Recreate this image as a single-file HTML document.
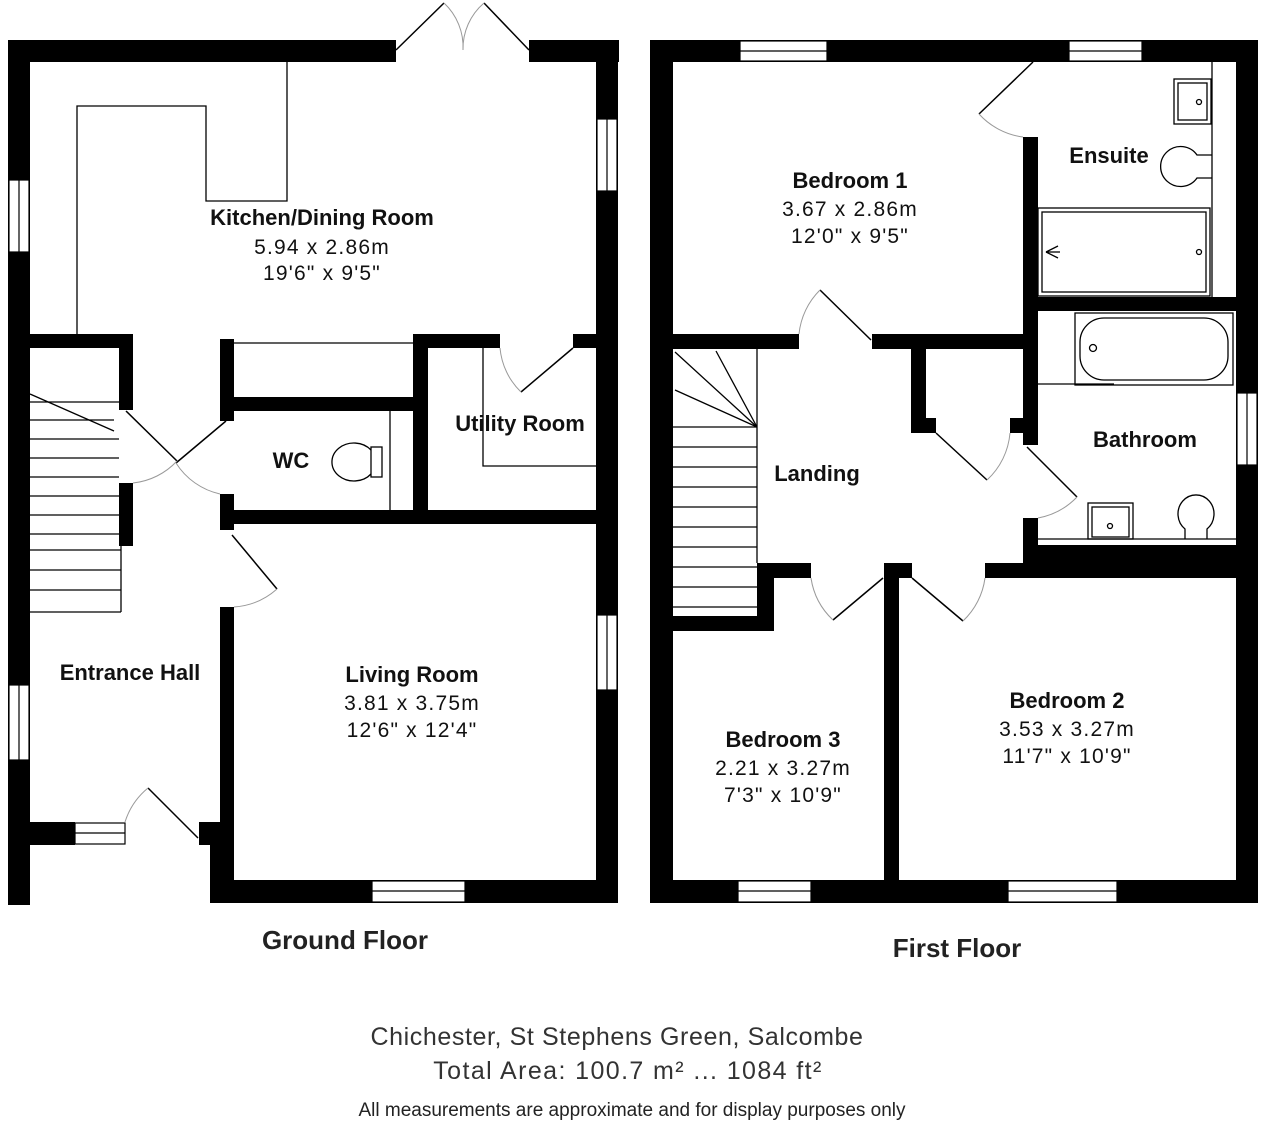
<!DOCTYPE html>
<html><head><meta charset="utf-8"><style>
html,body{margin:0;padding:0;background:#fff;}
svg{display:block;}
text{font-family:"Liberation Sans",Arial,sans-serif;}
.b{font-weight:bold;font-size:22px;fill:#111;}
.n{font-size:21px;fill:#111;letter-spacing:1.2px;}
</style></head><body>
<svg width="1264" height="1128" viewBox="0 0 1264 1128" xmlns="http://www.w3.org/2000/svg">
<g fill="#000">
<rect x="8" y="40" width="388" height="22"/>
<rect x="529" y="40" width="90" height="22"/>
<rect x="8" y="40" width="22" height="865"/>
<rect x="596" y="40" width="22" height="862"/>
<rect x="30" y="334" width="103" height="14"/>
<rect x="119" y="334" width="14" height="76"/>
<rect x="119" y="483" width="14" height="63"/>
<rect x="220" y="339" width="14" height="82"/>
<rect x="220" y="397" width="200" height="14"/>
<rect x="413" y="334" width="15" height="176"/>
<rect x="413" y="334" width="87" height="14"/>
<rect x="573" y="334" width="25" height="14"/>
<rect x="220" y="494" width="14" height="36"/>
<rect x="220" y="510" width="378" height="14"/>
<rect x="220" y="607" width="14" height="243"/>
<rect x="8" y="822" width="67" height="23"/>
<rect x="199" y="822" width="14" height="23"/>
<rect x="210" y="822" width="24" height="81"/>
<rect x="210" y="880" width="408" height="23"/>
<rect x="650" y="40" width="608" height="22"/>
<rect x="650" y="40" width="23" height="863"/>
<rect x="1236" y="40" width="22" height="863"/>
<rect x="650" y="880" width="608" height="23"/>
<rect x="1023" y="137" width="15" height="308"/>
<rect x="1023" y="518" width="15" height="47"/>
<rect x="1037" y="297" width="199" height="14"/>
<rect x="673" y="334" width="126" height="15"/>
<rect x="872" y="334" width="165" height="15"/>
<rect x="911" y="349" width="15" height="84"/>
<rect x="911" y="418" width="25" height="15"/>
<rect x="1010" y="418" width="13" height="15"/>
<rect x="757" y="563" width="54" height="15"/>
<rect x="757" y="563" width="17" height="68"/>
<rect x="673" y="616" width="101" height="15"/>
<rect x="884" y="563" width="15" height="320"/>
<rect x="884" y="563" width="28" height="15"/>
<rect x="985" y="563" width="251" height="15"/>
<rect x="1023" y="545" width="213" height="20"/>
</g>

<g fill="#fff" stroke="#000" stroke-width="1.2">
<rect x="9" y="180" width="20" height="72"/><line x1="19" y1="180" x2="19" y2="252"/>
<rect x="9" y="685" width="20" height="75"/><line x1="19" y1="685" x2="19" y2="760"/>
<rect x="597" y="119" width="20" height="72"/><line x1="607" y1="119" x2="607" y2="191"/>
<rect x="597" y="615" width="20" height="75"/><line x1="607" y1="615" x2="607" y2="690"/>
<rect x="75" y="823" width="50" height="21"/><line x1="75" y1="833" x2="125" y2="833"/>
<rect x="372" y="881" width="93" height="21"/><line x1="372" y1="891" x2="465" y2="891"/>
<rect x="740" y="41" width="87" height="20"/><line x1="740" y1="51" x2="827" y2="51"/>
<rect x="1069" y="41" width="73" height="20"/><line x1="1069" y1="51" x2="1142" y2="51"/>
<rect x="1237" y="393" width="20" height="72"/><line x1="1247" y1="393" x2="1247" y2="465"/>
<rect x="738" y="881" width="73" height="21"/><line x1="738" y1="891" x2="811" y2="891"/>
<rect x="1008" y="881" width="109" height="21"/><line x1="1008" y1="891" x2="1117" y2="891"/>
</g>

<g fill="none" stroke="#000" stroke-width="1.3">
<polyline points="77,334 77,106 206,106 206,201 287,201 287,62"/>
<line x1="234" y1="343" x2="413" y2="343"/>
<polyline points="483,348 483,466 596,466"/>
<line x1="390" y1="411" x2="390" y2="510"/>
<line x1="30" y1="394" x2="114" y2="431"/>
<line x1="30" y1="402" x2="119" y2="402"/>
<line x1="30" y1="420" x2="114" y2="420"/>
<line x1="30" y1="439" x2="119" y2="439"/>
<line x1="30" y1="458" x2="119" y2="458"/>
<line x1="30" y1="477" x2="119" y2="477"/>
<line x1="30" y1="496" x2="119" y2="496"/>
<line x1="30" y1="515" x2="119" y2="515"/>
<line x1="30" y1="534" x2="119" y2="534"/>
<line x1="30" y1="550" x2="121" y2="550"/>
<line x1="30" y1="570" x2="121" y2="570"/>
<line x1="30" y1="590" x2="121" y2="590"/>
<line x1="30" y1="612" x2="121" y2="612"/>
<line x1="121" y1="546" x2="121" y2="612"/>
<line x1="757" y1="349" x2="757" y2="563"/>
<line x1="675" y1="352" x2="757" y2="427"/>
<line x1="716" y1="351" x2="757" y2="427"/>
<line x1="675" y1="390" x2="757" y2="427"/>
<line x1="673" y1="427" x2="757" y2="427"/>
<line x1="673" y1="447" x2="757" y2="447"/>
<line x1="673" y1="467" x2="757" y2="467"/>
<line x1="673" y1="487" x2="757" y2="487"/>
<line x1="673" y1="507" x2="757" y2="507"/>
<line x1="673" y1="527" x2="757" y2="527"/>
<line x1="673" y1="547" x2="757" y2="547"/>
<line x1="673" y1="567" x2="757" y2="567"/>
<line x1="673" y1="587" x2="757" y2="587"/>
<line x1="673" y1="607" x2="757" y2="607"/>
<!-- WC toilet -->
<path d="M371,450 A22,19 0 1 0 371,474"/>
<rect x="371" y="447" width="11" height="30"/>
<!-- Ensuite -->
<line x1="1212" y1="62" x2="1212" y2="297"/>
<rect x="1174" y="79" width="37" height="45"/>
<rect x="1178" y="83" width="29" height="37"/>
<circle cx="1199" cy="102" r="2.5"/>
<path d="M1212,155 L1197,155 A20,20 0 1 0 1197,178 L1212,178"/>
<rect x="1038" y="208" width="172" height="88"/>
<rect x="1042" y="212" width="164" height="80"/>
<circle cx="1199" cy="252" r="2.5"/>
<line x1="1046" y1="252" x2="1058" y2="246"/><line x1="1046" y1="252" x2="1058" y2="258"/><line x1="1046" y1="252" x2="1060" y2="252"/>
<rect x="1075" y="313" width="158" height="72"/>
<rect x="1080" y="318" width="148" height="62" rx="24"/>
<circle cx="1093" cy="348" r="3.5"/>
<line x1="1037" y1="384" x2="1114" y2="384"/>
<line x1="1037" y1="539" x2="1236" y2="539"/>
<rect x="1088" y="503" width="45" height="36"/>
<rect x="1092" y="507" width="37" height="30"/>
<circle cx="1110" cy="526" r="2.5"/>
<path d="M1185,539 L1185,529 A18,19 0 1 1 1207,529 L1207,539"/>
</g>

<g fill="none" stroke="#000" stroke-width="1.5">
<line x1="396" y1="50" x2="444" y2="3"/>
<line x1="529" y1="50" x2="484" y2="3"/>
<line x1="126" y1="411" x2="177" y2="461"/>
<line x1="226" y1="421" x2="176" y2="463"/>
<line x1="573" y1="348" x2="521" y2="392"/>
<line x1="232" y1="535" x2="277" y2="589"/>
<line x1="148" y1="788" x2="198" y2="838"/>
<line x1="1033" y1="62" x2="979" y2="114"/>
<line x1="820" y1="290" x2="871" y2="340"/>
<line x1="936" y1="433" x2="987" y2="480"/>
<line x1="1027" y1="447" x2="1077" y2="497"/>
<line x1="883" y1="578" x2="833" y2="620"/>
<line x1="912" y1="578" x2="963" y2="621"/>
</g>
<g fill="none" stroke="#999" stroke-width="1">
<path d="M444,3 A60,60 0 0 1 463,50"/>
<path d="M484,3 A60,60 0 0 0 463,50"/>
<path d="M177,461 A70,70 0 0 1 133,483"/>
<path d="M176,463 A70,70 0 0 0 220,494"/>
<path d="M521,392 A70,70 0 0 1 500,348"/>
<path d="M277,589 A72,72 0 0 1 234,607"/>
<path d="M148,788 A72,72 0 0 0 125,822"/>
<path d="M979,114 A72,72 0 0 0 1023,137"/>
<path d="M820,290 A72,72 0 0 0 799,334"/>
<path d="M987,480 A72,72 0 0 0 1010,433"/>
<path d="M1077,497 A72,72 0 0 1 1038,518"/>
<path d="M833,620 A72,72 0 0 1 811,578"/>
<path d="M963,621 A72,72 0 0 0 985,578"/>
</g>

<text class="b" x="322" y="225" text-anchor="middle">Kitchen/Dining Room</text>
<text class="n" x="322" y="254" text-anchor="middle">5.94 x 2.86m</text>
<text class="n" x="322" y="280" text-anchor="middle">19'6" x 9'5"</text>
<text class="b" x="520" y="431" text-anchor="middle">Utility Room</text>
<text class="b" x="291" y="468" text-anchor="middle">WC</text>
<text class="b" x="130" y="680" text-anchor="middle">Entrance Hall</text>
<text class="b" x="412" y="682" text-anchor="middle">Living Room</text>
<text class="n" x="412" y="710" text-anchor="middle">3.81 x 3.75m</text>
<text class="n" x="412" y="737" text-anchor="middle">12'6" x 12'4"</text>
<text class="b" x="850" y="188" text-anchor="middle">Bedroom 1</text>
<text class="n" x="850" y="216" text-anchor="middle">3.67 x 2.86m</text>
<text class="n" x="850" y="243" text-anchor="middle">12'0" x 9'5"</text>
<text class="b" x="1109" y="163" text-anchor="middle">Ensuite</text>
<text class="b" x="1145" y="447" text-anchor="middle">Bathroom</text>
<text class="b" x="817" y="481" text-anchor="middle">Landing</text>
<text class="b" x="1067" y="708" text-anchor="middle">Bedroom 2</text>
<text class="n" x="1067" y="736" text-anchor="middle">3.53 x 3.27m</text>
<text class="n" x="1067" y="763" text-anchor="middle">11'7" x 10'9"</text>
<text class="b" x="783" y="747" text-anchor="middle">Bedroom 3</text>
<text class="n" x="783" y="775" text-anchor="middle">2.21 x 3.27m</text>
<text class="n" x="783" y="802" text-anchor="middle">7'3" x 10'9"</text>
<text x="345" y="949" text-anchor="middle" style="font-weight:bold;font-size:26px;fill:#222">Ground Floor</text>
<text x="957" y="957" text-anchor="middle" style="font-weight:bold;font-size:26px;fill:#222">First Floor</text>
<text x="617" y="1045" text-anchor="middle" style="font-size:25px;fill:#333;letter-spacing:0.6px">Chichester, St Stephens Green, Salcombe</text>
<text x="628" y="1079" text-anchor="middle" style="font-size:25px;fill:#333;letter-spacing:1.4px">Total Area: 100.7 m² ... 1084 ft²</text>
<text x="632" y="1116" text-anchor="middle" style="font-size:19px;fill:#222">All measurements are approximate and for display purposes only</text>
</svg>
</body></html>
